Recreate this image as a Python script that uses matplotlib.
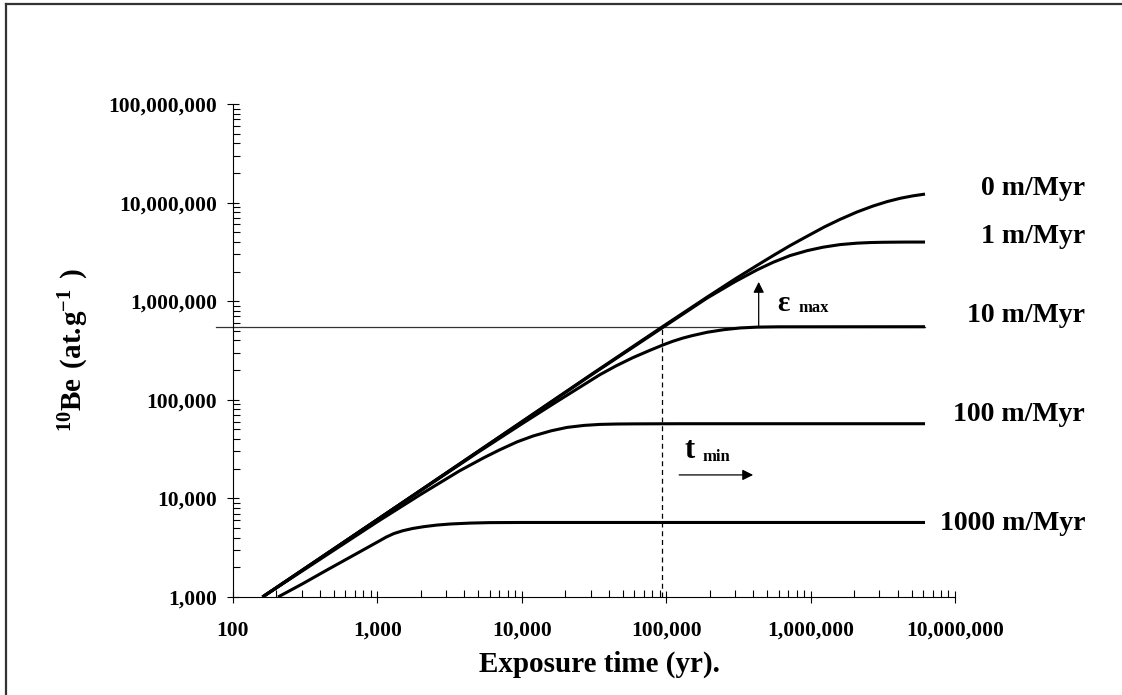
import matplotlib
matplotlib.use("Agg")
import matplotlib.pyplot as plt
from matplotlib.ticker import FuncFormatter, LogLocator, NullFormatter
from matplotlib.lines import Line2D

# Exposure time (yr) and 10Be concentration (at/g)
t_0 = [160, 1000, 10000, 30000, 93500, 192000, 300000, 420000, 550000, 720000, 944000, 1250000, 1600000,
       2100000, 2700000, 3400000, 4200000, 5100000, 6200000]
n_0 = [1000, 6100, 60000, 179000, 547000, 1100000, 1680000, 2280000, 2900000, 3660000, 4550000, 5680000, 6760000,
       8040000, 9220000, 10250000, 11080000, 11700000, 12200000]

t_1 = [160, 1000, 10000, 30000, 93500, 192000, 300000, 426000, 550000, 720000, 950000, 1220000, 1600000,
       2100000, 2600000, 3200000, 4500000, 6200000]
n_1 = [1000, 6100, 59500, 177000, 535000, 1076000, 1580000, 2080000, 2480000, 2900000, 3260000, 3530000, 3750000,
       3880000, 3935000, 3960000, 3978000, 3980000]

t_10 = [160, 1000, 5000, 10000, 17500, 25000, 34800, 45000, 58900, 77300, 95000, 111000, 130000, 150000, 192000,
        250000, 324000, 426000, 600000, 6200000]
n_10 = [1000, 6100, 29500, 57000, 96000, 133000, 180000, 221000, 268000, 318000, 360000, 392000, 422000, 446000,
        484000, 514000, 535000, 546000, 550000, 551000]

t_100 = [160, 1000, 2000, 3700, 5500, 7000, 9300, 12000, 16000, 20600, 27000, 34800, 45000, 60000, 125000, 6200000]
n_100 = [1000, 5800, 11000, 19000, 26000, 31000, 37500, 43000, 48500, 52500, 55000, 56300, 56800, 57000, 57200, 57200]

t_1000 = [205, 300, 448, 700, 1000, 1150, 1300, 1500, 1750, 2100, 2600, 3200, 4400, 6000, 10000, 6200000]
n_1000 = [1000, 1350, 1880, 2700, 3610, 4050, 4400, 4700, 4950, 5170, 5370, 5500, 5620, 5680, 5700, 5700]

curve_labels = ["0 m/Myr", "1 m/Myr", "10 m/Myr", "100 m/Myr", "1000 m/Myr"]

# reference concentration / minimum time
n_ref = 551000
t_min = 93500
t_eps = 437000
n_eps_top = 1570000

plt.rcParams['font.family'] = ['Liberation Serif', 'DejaVu Serif']
plt.rcParams['font.weight'] = 'bold'
plt.rcParams['mathtext.fontset'] = 'custom'
plt.rcParams['mathtext.rm'] = 'Liberation Serif'
plt.rcParams['mathtext.bf'] = 'Liberation Serif:bold'

fig = plt.figure(figsize=(11.22, 6.95), dpi=100)
ax = fig.add_axes([233 / 1122, 1 - 597 / 695, 722 / 1122, 493 / 695])

series = [(t_0, n_0), (t_1, n_1), (t_10, n_10), (t_100, n_100), (t_1000, n_1000)]
for t, n in series:
    ax.plot(t, n, color='black', lw=2.2, solid_capstyle='butt', solid_joinstyle='round')

ax.set_xscale('log')
ax.set_yscale('log')
ax.set_xlim(100, 1e7)
ax.set_ylim(1e3, 1e8)

# reference lines
ax.plot([76, 6.2e6], [n_ref, n_ref], color='#333333', lw=0.9, clip_on=False, zorder=1)
ax.plot([t_min, t_min], [1e3, n_ref], color='black', lw=0.9, ls=(0, (4, 3)), zorder=1)

# epsilon max arrow
ax.annotate('', xy=(t_eps, n_eps_top), xytext=(t_eps, n_ref),
            arrowprops=dict(arrowstyle='-|>', color='black', lw=0.9, mutation_scale=16, shrinkA=0, shrinkB=0))
ax.text(585000, 800000, 'ε', fontsize=21, fontweight='bold', ha='left', va='baseline')
ax.text(818000, 770000, 'max', fontsize=12, fontweight='bold', ha='left', va='baseline')

# t min arrow
ax.annotate('', xy=(400000, 17300), xytext=(123000, 17300),
            arrowprops=dict(arrowstyle='-|>', color='black', lw=0.9, mutation_scale=16, shrinkA=0, shrinkB=0))
ax.text(133000, 25500, 't', fontsize=22, fontweight='bold', ha='left', va='baseline')
ax.text(178000, 24000, 'min', fontsize=12, fontweight='bold', ha='left', va='baseline')

# ticks
fmt = FuncFormatter(lambda v, p: '{:,.0f}'.format(v))
for axis in (ax.xaxis, ax.yaxis):
    axis.set_major_locator(LogLocator(base=10, numticks=20))
    axis.set_minor_locator(LogLocator(base=10, subs=range(2, 10), numticks=20))
    axis.set_major_formatter(fmt)
    axis.set_minor_formatter(NullFormatter())
ax.tick_params(which='major', direction='inout', length=8.6, width=0.8)
ax.tick_params(which='minor', direction='in', length=5, width=0.8)
ax.tick_params(axis='y', which='major', pad=7, labelsize=15.5)
ax.tick_params(axis='x', which='major', pad=13, labelsize=15.5)
for lbl in ax.get_xticklabels() + ax.get_yticklabels():
    lbl.set_fontweight('bold')

for s in ['top', 'right']:
    ax.spines[s].set_visible(False)
for s in ['left', 'bottom']:
    ax.spines[s].set_linewidth(0.8)

ax.set_xlabel('Exposure time (yr).', fontsize=21, fontweight='bold')
ax.xaxis.set_label_coords(0.508, -0.108)
ax.set_ylabel(r'$\mathbf{^{10}Be\ (at.\!g^{-1}\ )}$', fontsize=21)
ax.yaxis.set_label_coords(-0.196, 0.5)

# curve labels at the right
label_base = [195, 243, 322, 421, 530]
for text, yb in zip(curve_labels, label_base):
    fig.text(1085 / 1122, 1 - yb / 695, text, fontsize=20, fontweight='bold',
             ha='right', va='baseline')

# frame of the original picture (top and left only)
fig.add_artist(Line2D([6 / 1122, 6 / 1122], [0, 1 - 4 / 695], transform=fig.transFigure, color='#333333', lw=1.6))
fig.add_artist(Line2D([6 / 1122, 1], [1 - 4 / 695, 1 - 4 / 695], transform=fig.transFigure, color='#333333', lw=1.6))

fig.savefig('out.png', dpi=100)
